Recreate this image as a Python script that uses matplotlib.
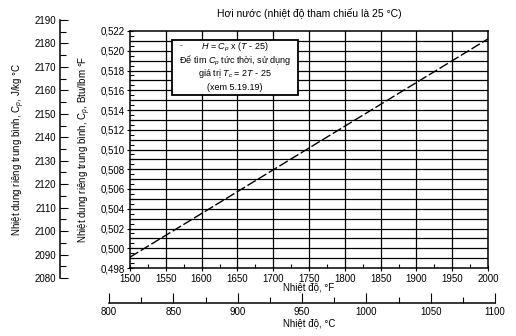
import matplotlib
matplotlib.use("Agg")
import matplotlib.pyplot as plt
from matplotlib.ticker import MultipleLocator, FuncFormatter
from matplotlib.patches import Rectangle

plt.rcParams['font.family'] = ['Liberation Sans', 'DejaVu Sans']
plt.rcParams['mathtext.fontset'] = 'custom'
plt.rcParams['mathtext.rm'] = 'Liberation Sans'
plt.rcParams['mathtext.it'] = 'Liberation Sans:italic'
plt.rcParams['font.size'] = 7

# Data
temp_F = [1500, 2000]
cp_btu = [0.4991, 0.5212]
cp_si_ticks = list(range(2080, 2191, 10))
temp_C_ticks = list(range(800, 1101, 50))

title = "Hơi nước (nhiệt độ tham chiếu là 25 °C)"
xlabel_F = "Nhiệt độ, °F"
xlabel_C = "Nhiệt độ, °C"
ylabel_btu = "Nhiệt dung riêng trung bình, C$_p$, Btu/lbm °F"
ylabel_si = "Nhiệt dung riêng trung bình, C$_p$, J/kg °C"
note_lines = ["$H$ = $C_p$ x ($T$ - 25)",
              "Để tìm $C_p$ tức thời, sử dụng",
              "giá trị $T_c$ = 2$T$ - 25",
              "(xem 5.19.19)"]

W, H = 516, 336
fig = plt.figure(figsize=(W/100, H/100), dpi=100)

def rect(l, t, r, b):
    return [l/W, 1 - b/H, (r-l)/W, (b-t)/H]

comma = FuncFormatter(lambda v, p: f"{v:.3f}".replace('.', ','))

# Main axes
ax = fig.add_axes(rect(130, 31, 488, 268))
ax.plot(temp_F, cp_btu, color='black', lw=1.0, ls=(0, (7, 2)))
ax.set_xlim(1500, 2000)
ax.set_ylim(0.498, 0.522)
ax.set_xticks(list(range(1500, 2001, 50)))
ax.xaxis.set_minor_locator(MultipleLocator(25))
ax.yaxis.set_major_locator(MultipleLocator(0.002))
ax.yaxis.set_minor_locator(MultipleLocator(0.0005))
ax.yaxis.set_major_formatter(comma)
for y in [i*0.001 + 0.498 for i in range(1, 24)]:
    ax.axhline(y, color='black', lw=0.9, zorder=1)
for x in range(1550, 2000, 50):
    ax.axvline(x, color='black', lw=0.9, zorder=1)
ax.tick_params(axis='both', which='major', direction='inout', length=5, width=0.8, pad=1.5, labelsize=7)
ax.tick_params(axis='both', which='minor', direction='in', length=3, width=0.8)
for s in ax.spines.values():
    s.set_linewidth(1.1)
ax.set_xlabel(xlabel_F, fontsize=7, labelpad=-1)
ax.set_ylabel(ylabel_btu, fontsize=7, labelpad=5)
ax.set_title(title, fontsize=7.5, pad=10)

# Note box
ax.add_patch(Rectangle((0.117, 0.730), 0.352, 0.232, transform=ax.transAxes,
                       facecolor='white', edgecolor='black', lw=1.3, zorder=5))
for txt, yy in zip(note_lines, [0.931, 0.875, 0.819, 0.763]):
    ax.text(0.293, yy, txt, transform=ax.transAxes, ha='center', va='center',
            fontsize=6.5, zorder=6)
ax.text(0.143, 0.940, "-", transform=ax.transAxes, ha='center', va='center', fontsize=6, zorder=6)

# Left SI axis
ax2 = fig.add_axes(rect(60, 20, 61, 278))
ax2.set_ylim(2080, 2190)
ax2.set_xticks([])
ax2.set_yticks(cp_si_ticks)
ax2.yaxis.set_minor_locator(MultipleLocator(5))
for k in ['top', 'right', 'bottom']:
    ax2.spines[k].set_visible(False)
ax2.spines['left'].set_linewidth(1.1)
ax2.patch.set_visible(False)
ax2.tick_params(axis='y', which='major', direction='in', length=6, width=0.8, pad=3, labelsize=7)
ax2.tick_params(axis='y', which='minor', direction='in', length=4, width=0.8)
ax2.set_ylabel(ylabel_si, fontsize=7, labelpad=5)

# Bottom Celsius axis
ax3 = fig.add_axes(rect(109, 302, 495, 303))
ax3.set_xlim(800, 1100)
ax3.set_yticks([])
ax3.set_xticks(temp_C_ticks)
ax3.xaxis.set_minor_locator(MultipleLocator(25))
for k in ['top', 'right', 'left']:
    ax3.spines[k].set_visible(False)
ax3.spines['bottom'].set_linewidth(1.1)
ax3.patch.set_visible(False)
ax3.tick_params(axis='x', which='major', direction='in', length=7, width=0.8, pad=3, labelsize=7)
ax3.tick_params(axis='x', which='minor', direction='in', length=4, width=0.8)
fig.text((130+488)/2/W, 1-323/H, xlabel_C, ha='center', va='center', fontsize=7)

fig.savefig("out.png", dpi=100)
